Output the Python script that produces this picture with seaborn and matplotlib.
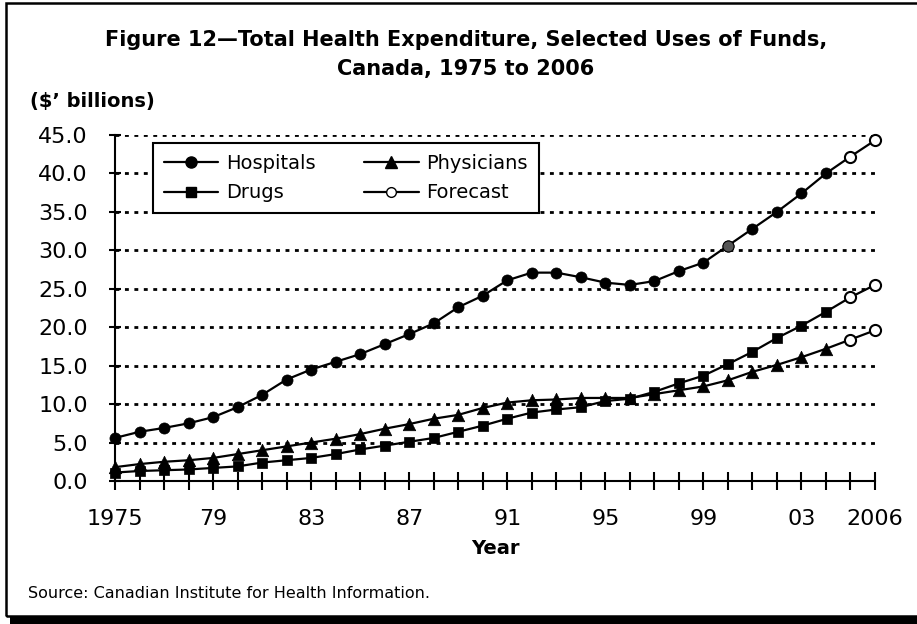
import matplotlib
matplotlib.use("Agg")
import matplotlib.pyplot as plt
import seaborn as sns
from matplotlib.lines import Line2D
from matplotlib.patches import Rectangle

# data (2005-2006 are forecast values)
years = list(range(1975, 2007))
hospitals = [5.6, 6.4, 6.9, 7.5, 8.3, 9.6, 11.2, 13.2, 14.5, 15.5, 16.5, 17.8, 19.1, 20.5, 22.6, 24.1,
             26.1, 27.1, 27.1, 26.5, 25.8, 25.5, 26.0, 27.3, 28.4, 30.6, 32.8, 35.0, 37.4, 40.0, 42.2, 44.3]
physicians = [1.8, 2.2, 2.5, 2.7, 3.0, 3.5, 4.0, 4.5, 5.0, 5.5, 6.1, 6.8, 7.4, 8.1, 8.6, 9.5,
              10.2, 10.5, 10.6, 10.8, 10.8, 10.8, 11.3, 11.8, 12.3, 13.1, 14.2, 15.1, 16.1, 17.2, 18.4, 19.6]
drugs = [1.1, 1.3, 1.4, 1.5, 1.7, 1.9, 2.4, 2.7, 3.0, 3.5, 4.1, 4.6, 5.1, 5.6, 6.4, 7.2,
         8.1, 8.9, 9.3, 9.6, 10.4, 10.7, 11.6, 12.7, 13.7, 15.2, 16.8, 18.6, 20.2, 22.0, 23.9, 25.5]
n_forecast = 2
label_years = [1975, 1979, 1983, 1987, 1991, 1995, 1999, 2003, 2006]
label_text = ["1975", "79", "83", "87", "91", "95", "99", "03", "2006"]
y_ticks = [0, 5, 10, 15, 20, 25, 30, 35, 40, 45]

sns.set_theme(style="white")
plt.rcParams['font.family'] = ['DejaVu Sans']
plt.rcParams.update({"text.color": "black", "axes.labelcolor": "black",
                     "xtick.color": "black", "ytick.color": "black"})

fig = plt.figure(figsize=(9.17, 6.24), dpi=100)
ax = fig.add_axes([115 / 917, 1 - 481 / 624, 760 / 917, 346 / 624])

# dotted grid lines
for v in y_ticks[1:]:
    ax.axhline(v, color="black", lw=2.0, linestyle=(0, (1.4, 2.0)), zorder=1)

series = [("Hospitals", hospitals, "o", 8),
          ("Physicians", physicians, "^", 9),
          ("Drugs", drugs, "s", 7.5)]
n_hist = len(years) - n_forecast
for name, vals, mk, ms in series:
    sns.lineplot(x=years, y=vals, color="black", lw=1.6, ax=ax, zorder=3, clip_on=False)
    sns.scatterplot(x=years[:n_hist], y=vals[:n_hist], marker=mk, s=ms ** 2, color="black",
                    edgecolor="black", linewidth=0.5, ax=ax, zorder=4, clip_on=False)
    sns.scatterplot(x=years[n_hist:], y=vals[n_hist:], marker="o", s=8 ** 2, color="white",
                    edgecolor="black", linewidth=1.5, ax=ax, zorder=4, clip_on=False)

# the 2000 hospitals point is shaded grey in the source
sns.scatterplot(x=[years[25]], y=[hospitals[25]], marker="o", s=8 ** 2, color="#555555",
                edgecolor="black", linewidth=0.8, ax=ax, zorder=5)

ax.set_xlim(1975, 2006)
ax.set_ylim(0, 45)
ax.set_yticks(y_ticks)
ax.set_yticklabels([f"{v:.1f}" for v in y_ticks])
ax.set_xticks(years)
ax.set_xticklabels([label_text[label_years.index(y)] if y in label_years else "" for y in years])
ax.tick_params(axis="x", direction="inout", length=13, width=1.5, pad=14, labelsize=16)
ax.tick_params(axis="y", direction="inout", length=9, width=1.5, pad=15, labelsize=16)
ax.tick_params(bottom=True, left=True)
for side in ["top", "right"]:
    ax.spines[side].set_visible(False)
for side in ["left", "bottom"]:
    ax.spines[side].set_color("black")
    ax.spines[side].set_linewidth(1.5)
ax.set_ylabel("")
ax.set_xlabel("Year", fontsize=14, fontweight="bold", labelpad=7)

handles = [Line2D([], [], color="black", lw=1.6, marker="o", ms=8, label="Hospitals"),
           Line2D([], [], color="black", lw=1.6, marker="s", ms=7.5, label="Drugs"),
           Line2D([], [], color="black", lw=1.6, marker="^", ms=9, label="Physicians"),
           Line2D([], [], color="black", lw=1.6, marker="o", ms=7, mfc="white", label="Forecast")]
leg = ax.legend(handles=handles, ncol=2, loc="upper left", bbox_to_anchor=(0.05, 0.977),
                borderaxespad=0, fontsize=14, frameon=True, fancybox=False, framealpha=1,
                edgecolor="black", handlelength=2.8, columnspacing=2.5, borderpad=0.55,
                labelspacing=0.55, handletextpad=0.4)
leg.get_frame().set_linewidth(1.5)
leg.set_zorder(6)

fig.text(0.508, 1 - 40 / 624, "Figure 12\u2014Total Health Expenditure, Selected Uses of Funds,",
         ha="center", va="center", fontsize=15, fontweight="bold")
fig.text(0.508, 1 - 69 / 624, "Canada, 1975 to 2006",
         ha="center", va="center", fontsize=15, fontweight="bold")
fig.text(30 / 917, 1 - 102 / 624, "($\u2019 billions)", ha="left", va="center",
         fontsize=14, fontweight="bold")
fig.text(28 / 917, 1 - 593 / 624, "Source: Canadian Institute for Health Information.",
         ha="left", va="center", fontsize=11.5)

# page frame with shadow
fig.add_artist(Rectangle((6 / 917, 8 / 624), 1.0, 1 - 11 / 624, transform=fig.transFigure,
                         fill=False, edgecolor="black", lw=1.8))
fig.add_artist(Rectangle((10 / 917, 0), 1.0, 8 / 624, transform=fig.transFigure,
                         facecolor="black", edgecolor="none"))

fig.savefig("out.png", dpi=100)
